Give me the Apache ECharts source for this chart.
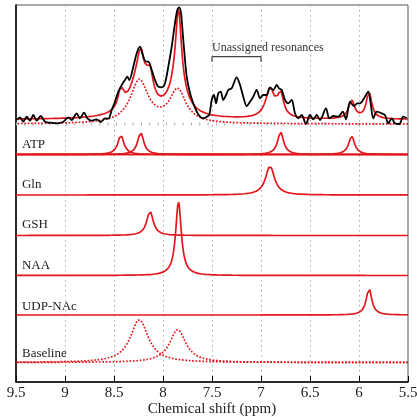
<!DOCTYPE html>
<html><head><meta charset="utf-8">
<script src="https://cdn.jsdelivr.net/npm/echarts@6/dist/echarts.min.js"></script>
<style>html,body{margin:0;padding:0;background:#fff}#c{width:417px;height:417px}</style>
</head><body><div id="c"></div>
<script>
// ---------------- data ----------------
const xTicks = [9.5, 9, 8.5, 8, 7.5, 7, 6.5, 6, 5.5];
const componentNames = ['ATP', 'Gln', 'GSH', 'NAA', 'UDP-NAc', 'Baseline'];
// fitted peaks: [centre (ppm), height, half-width at half-height (ppm)]
const atpPeaks = [[8.43, 19.5, 0.037], [8.228, 22.3, 0.037], [6.80, 22.5, 0.037], [6.075, 18.3, 0.037]];
const glnPeaks = [[6.908, 29, 0.055]];
const gshPeaks = [[8.133, 24.5, 0.04]];
const naaPeaks = [[7.842, 73.5, 0.035]];
const udpPeaks = [[5.898, 26.7, 0.034]];
const baselinePeaks = [[8.242, 43, 0.11], [7.85, 33, 0.1]];
const fitConstant = 4.5;
// measured spectrum: [ppm, intensity]
const measured = [
[9.493,4],[9.459,6.7],[9.426,2.3],[9.391,7.3],[9.357,3.3],[9.323,9],[9.289,3.3],[9.248,8],[9.204,2.3],
[9.153,1.3],[9.085,0.7],[9.017,2.3],[8.966,6.7],[8.932,4],[8.881,10.7],[8.847,5.7],[8.806,11.3],[8.772,5.7],
[8.728,3.3],[8.677,4.7],[8.636,2],[8.592,5.7],[8.558,5.3],[8.523,14],[8.490,22.3],[8.456,32.3],[8.421,39],
[8.388,44],[8.364,47.3],[8.344,44],[8.303,57.3],[8.268,70.7],[8.235,77.3],[8.201,67.3],[8.173,62.3],
[8.150,62.3],[8.115,54],[8.082,44],[8.048,37.3],[8.013,36.7],[7.980,40.7],[7.946,57.3],[7.911,77.3],
[7.878,100.7],[7.854,114],[7.834,116.7],[7.816,110.7],[7.793,84],[7.758,47.3],[7.724,30.7],[7.691,20.7],
[7.656,12.3],[7.622,7.3],[7.589,5.7],[7.554,7.3],[7.528,9],[7.503,24],[7.480,29],[7.459,20.7],[7.436,30.7],
[7.411,32.3],[7.385,24],[7.357,29],[7.334,34],[7.299,35.7],[7.248,46.7],[7.214,39],[7.181,27.3],[7.146,18],
[7.112,22.3],[7.079,27.3],[7.044,34],[7.010,25.7],[6.977,29],[6.942,29],[6.908,36.7],[6.874,34],[6.840,39],
[6.816,35.7],[6.789,34],[6.755,24],[6.721,20.7],[6.687,24],[6.653,10.7],[6.619,5.7],[6.585,9],[6.541,0],
[6.500,9],[6.466,4.7],[6.432,9],[6.398,4],[6.337,15.7],[6.303,5.7],[6.262,8],[6.211,7.3],[6.166,12.3],
[6.133,4.7],[6.092,22.3],[6.051,18],[6.017,20.7],[5.990,20.7],[5.939,27.3],[5.905,32.3],[5.881,20.7],
[5.854,5.7],[5.819,12.3],[5.768,10.7],[5.735,9],[5.701,0.7],[5.666,5.7],[5.633,0.7],[5.589,0],[5.548,7.3],[5.513,5.7]
];
const unassignedRange = [7.5, 7.0];
const unassignedLabel = 'Unassigned resonances';
const axisTitle = 'Chemical shift (ppm)';

// ---------------- layout / style ----------------
const RED = '#e3161b';
const FONT = '"Liberation Serif", "Times New Roman", serif';
const offsets = { top: 258, ATP: 227.5, Gln: 187, GSH: 146.5, NAA: 106.5, 'UDP-NAc': 67, Baseline: 19.5 };
const bracketLevel = 325.3, bracketDrop = 5;

// ---------------- build ----------------
const xs = [];
for (let i = 0; i <= 800; i++) xs.push(+(5.5 + i * 0.005).toFixed(3));
const lor = (x, p) => p[1] / (1 + Math.pow((x - p[0]) / p[2], 2));
const sumPeaks = (x, list) => list.reduce((s, p) => s + lor(x, p), 0);
const allComponentPeaks = [].concat(atpPeaks, glnPeaks, gshPeaks, naaPeaks, udpPeaks);

const series = [];
const line = (data, opts) => Object.assign({
  type: 'line', data, showSymbol: false, symbol: 'none', silent: true, animation: false,
  lineStyle: { color: RED, width: 1.7 }
}, opts);

// faint tick-like marks along the top baseline
series.push(line([[9.5, offsets.top], [5.5, offsets.top]], { lineStyle: { color: '#aaa', width: 3, type: [1, 7.33] }, z: 1 }));
// top: baseline sum (dotted)
series.push(line(xs.map(x => [x, offsets.top + sumPeaks(x, baselinePeaks)]), { lineStyle: { color: RED, width: 1.7, type: 'dotted' }, z: 2 }));
// top: total fit
series.push(line(xs.map(x => [x, offsets.top + fitConstant + sumPeaks(x, baselinePeaks) + sumPeaks(x, allComponentPeaks)]), { z: 3 }));
// top: measured
series.push(line(measured.map(d => [d[0], offsets.top + d[1]]), { smooth: 0.3, lineStyle: { color: '#000', width: 1.8 }, z: 4 }));
// bracket
series.push(line([[unassignedRange[0], bracketLevel - bracketDrop], [unassignedRange[0], bracketLevel],
  [unassignedRange[1], bracketLevel], [unassignedRange[1], bracketLevel - bracketDrop]], { lineStyle: { color: '#444', width: 1.2 }, z: 4 }));

// component panels, each peak its own curve
const panel = (name, peaks, dotted) => {
  peaks.forEach(p => {
    series.push(line(xs.map(x => [x, offsets[name] + lor(x, p)]), {
      lineStyle: { color: RED, width: 1.7, type: dotted ? 'dotted' : 'solid' }, z: 3
    }));
  });
};
panel('ATP', atpPeaks); panel('Gln', glnPeaks); panel('GSH', gshPeaks);
panel('NAA', naaPeaks); panel('UDP-NAc', udpPeaks); panel('Baseline', baselinePeaks, true);

const chart = echarts.init(document.getElementById('c'), null, { renderer: 'canvas' });
chart.setOption({
  animation: false,
  backgroundColor: '#fff',
  grid: { left: 16, right: 9, top: 5, bottom: 35, containLabel: false, outerBoundsMode: 'none',
    show: true, borderColor: '#555', borderWidth: 1, backgroundColor: 'transparent' },
  xAxis: {
    type: 'value', min: 5.5, max: 9.5, interval: 0.5, inverse: true,
    name: axisTitle, nameLocation: 'middle', nameGap: 20, nameMoveOverlap: false,
    nameTextStyle: { fontFamily: FONT, fontSize: 15, color: '#222', verticalAlign: 'top' },
    axisLine: { show: true, lineStyle: { color: '#000', width: 1.5 } },
    axisTick: { show: true, inside: true, length: 6, lineStyle: { color: '#000', width: 1 } },
    axisLabel: { fontFamily: FONT, fontSize: 15, color: '#222', margin: 4,
      formatter: v => { const t = xTicks.find(k => Math.abs(k - v) < 1e-6); return t === undefined ? '' : String(t); } },
    splitLine: { show: true, lineStyle: { color: '#aaa', width: 1, type: [1.5, 3.5] } }
  },
  yAxis: {
    type: 'value', min: 0, max: 377,
    axisLine: { show: true, lineStyle: { color: '#000', width: 1.5 } },
    axisTick: { show: false }, axisLabel: { show: false }, splitLine: { show: false }
  },
  series
});

// labels
const labelDy = { ATP: 9.5, Gln: 10, GSH: 10.5, NAA: 9.5, 'UDP-NAc': 8.3, Baseline: 8.5 };
const graphics = componentNames.map(n => {
  const pt = chart.convertToPixel({ gridIndex: 0 }, [9.439, offsets[n] + labelDy[n]]);
  return { type: 'text', x: pt[0], y: pt[1], silent: true,
    style: { text: n, fontFamily: FONT, fontSize: 13, fill: '#222', align: 'left', verticalAlign: 'middle' } };
});
const bp = chart.convertToPixel({ gridIndex: 0 }, [unassignedRange[0], bracketLevel + 8.5]);
graphics.push({ type: 'text', x: bp[0], y: bp[1], silent: true,
  style: { text: unassignedLabel, fontFamily: FONT, fontSize: 12, fill: '#333', align: 'left', verticalAlign: 'middle' } });
chart.setOption({ graphic: graphics });
</script>
</body></html>
